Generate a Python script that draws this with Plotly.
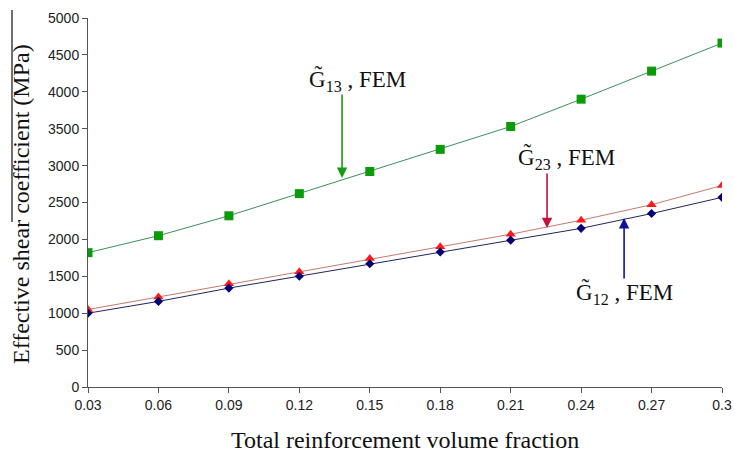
import plotly.graph_objects as go

vf = [0.03, 0.06, 0.09, 0.12, 0.15, 0.18, 0.21, 0.24, 0.27, 0.30]
g13 = [1820, 2050, 2320, 2620, 2920, 3220, 3530, 3900, 4280, 4660]
g23 = [1050, 1220, 1400, 1560, 1740, 1900, 2070, 2260, 2470, 2730]
g12 = [1000, 1160, 1340, 1500, 1670, 1830, 1990, 2150, 2350, 2570]
xticks = [0.03, 0.06, 0.09, 0.12, 0.15, 0.18, 0.21, 0.24, 0.27, 0.3]
xtick_text = ["0.03", "0.06", "0.09", "0.12", "0.15", "0.18", "0.21", "0.24", "0.27", "0.3"]

fig = go.Figure()
fig.add_trace(go.Scatter(x=vf, y=g13, mode="lines+markers",
                         line=dict(color="#3c8f5a", width=1),
                         marker=dict(symbol="square", size=9, color="#0a9a0a")))
fig.add_trace(go.Scatter(x=vf, y=g23, mode="lines+markers",
                         line=dict(color="#c47a6e", width=1),
                         marker=dict(symbol="triangle-up", size=9, color="#ff1a1a")))
fig.add_trace(go.Scatter(x=vf, y=g12, mode="lines+markers",
                         line=dict(color="#24245e", width=1),
                         marker=dict(symbol="diamond", size=7, color="#000070")))

serif = "Liberation Serif, Times New Roman, serif"
L, R, T, B = 88, 12, 18, 70
pw = 734 - L - R
ph = 457 - T - B
px = lambda p: (p - L) / pw
py = lambda p: (457 - B - p) / ph

anns = []
# text labels
for txt, x, y in [("G\u0303<sub>13</sub> , FEM", 0.1446, 4160),
                  ("G\u0303<sub>23</sub> , FEM", 0.2336, 3103),
                  ("G\u0303<sub>12</sub> , FEM", 0.2583, 1274)]:
    anns.append(dict(x=x, y=y, xref="x", yref="y", text=txt, showarrow=False,
                     font=dict(family=serif, size=23, color="#111")))
# arrows
for x, y, ay, col in [(0.1382, 2832, -85, "#169c16"),
                      (0.2255, 2154, -56, "#c8103c"),
                      (0.2583, 2290, 62, "#1010a0")]:
    anns.append(dict(x=x, y=y, xref="x", yref="y", text="", showarrow=True,
                     ax=0, ay=ay, arrowhead=2, arrowsize=1.3, arrowwidth=1.6,
                     arrowcolor=col))
# axis titles
anns.append(dict(x=px(21), y=py(204), xref="paper", yref="paper", xanchor="center", yanchor="middle",
                 text="Effective shear coefficient (MPa)", textangle=-90, showarrow=False,
                 font=dict(family=serif, size=24, color="#111")))
anns.append(dict(x=px(405), y=py(440), xref="paper", yref="paper", xanchor="center", yanchor="middle",
                 text="Total reinforcement volume fraction", showarrow=False,
                 font=dict(family=serif, size=24, color="#111")))

fig.update_layout(
    width=734, height=457,
    margin=dict(l=L, r=R, t=T, b=B, autoexpand=False),
    plot_bgcolor="white", paper_bgcolor="white",
    showlegend=False,
    annotations=anns,
    shapes=[dict(type="line", xref="paper", yref="paper",
                 x0=px(12), x1=px(12), y0=py(10), y1=py(222),
                 line=dict(color="#111", width=1.2))],
    xaxis=dict(range=[0.03, 0.3], tickvals=xticks, ticktext=xtick_text, automargin=False,
               showgrid=False, zeroline=False, showline=True, linecolor="#555", linewidth=1,
               ticks="outside", ticklen=5, tickcolor="#555",
               tickfont=dict(family="Liberation Sans, Arial", size=14, color="#222")),
    yaxis=dict(range=[0, 5000], dtick=500, automargin=False,
               showgrid=False, zeroline=False, showline=True, linecolor="#555", linewidth=1,
               ticks="outside", ticklen=5, tickcolor="#555",
               tickfont=dict(family="Liberation Sans, Arial", size=14, color="#222")),
)

fig.write_html("out.html", config={"displayModeBar": False},
               post_script="document.body.style.margin='0';document.body.style.overflow='hidden';")
